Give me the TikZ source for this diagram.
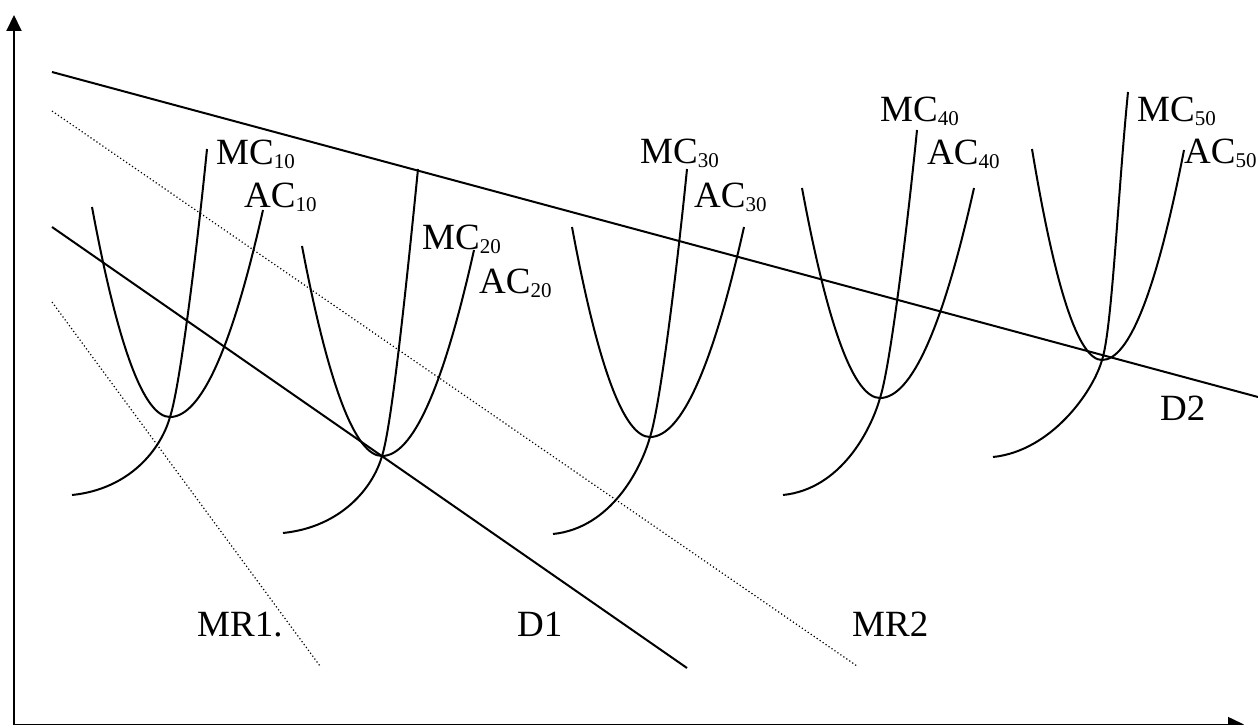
\documentclass[tikz,border=0pt]{standalone}
\usepackage{fontspec}
\setmainfont{Liberation Serif}
\usetikzlibrary{arrows.meta,calc}
\newcommand\labsub[2]{#1\raisebox{-4.5pt}{\fontsize{21}{21}\selectfont #2}}
\begin{document}
\begin{tikzpicture}[x=1pt,y=-1pt,
  curve/.style={line width=2pt},
  dline/.style={line width=1.2pt,dash pattern=on 1.2pt off 2.4pt},
  lab/.style={anchor=base west,inner sep=0pt,font=\fontsize{37}{40}\selectfont},
  axis/.style={line width=2pt}]
\useasboundingbox (0,0) rectangle (1258,725);
% axes
\coordinate (O) at (14,724.5);
\coordinate (Ytop) at (14,15);
\coordinate (Xend) at (1244,724.5);
\draw[axis,-{Triangle[length=16pt,width=15pt]}] (O) -- (Ytop);
\draw[line width=1.5pt,-{Triangle[length=16pt,width=15pt]}] (O) -- (Xend);
% demand and MR lines
\coordinate (D2a) at (52,72);   \coordinate (D2b) at (1258,397);
\coordinate (MR2a) at (52,111); \coordinate (MR2b) at (857,666);
\coordinate (D1a) at (52,227);  \coordinate (D1b) at (687,668);
\coordinate (MR1a) at (52,302); \coordinate (MR1b) at (320,666);
\draw[curve] (D2a) -- (D2b);
\draw[curve] (D1a) -- (D1b);
\draw[dline] (MR2a) -- (MR2b);
\draw[dline] (MR1a) -- (MR1b);
% cost curves
\foreach \n/\vx/\vy/\lx/\ly/\rx/\ry/\bx/\by/\tx/\ty in {
  1/170/417/92/207/263/210/72/495/207/149,
  2/382/456/302/246/474/250/283/533/418/169,
  3/650/437/572/227/744/227/553/534/687/169,
  4/880/398/802/188/974/188/783/495/917/130,
  5/1102/360/1032/149/1184/150/993/457/1128/92}{
  \coordinate (V\n) at (\vx,\vy);
  \coordinate (L\n) at (\lx,\ly);
  \coordinate (R\n) at (\rx,\ry);
  \coordinate (B\n) at (\bx,\by);
  \coordinate (T\n) at (\tx,\ty);
  % parabolic AC (quadratic Bezier written as cubic)
  \draw[curve] (L\n) .. controls ({\lx+(\vx-\lx)/3},{\ly+2*(\vy-\ly)/3}) and ({\vx-(\vx-\lx)/3},\vy) .. (V\n)
                     .. controls ({\vx+(\rx-\vx)/3},\vy) and ({\rx-(\rx-\vx)/3},{\ry+2*(\vy-\ry)/3}) .. (R\n);
  % MC
  \draw[curve] (B\n) .. controls ($(B\n)+(58,-6)$) and ($(V\n)+(-9,32)$) .. (V\n)
                     .. controls ($(V\n)+(10,-30)$) and ($(T\n)+(-10,100)$) .. (T\n);
}
% labels
\node[lab] (mc10) at (216,164) {\labsub{MC}{10}};
\node[lab] (ac10) at (244,207) {\labsub{AC}{10}};
\node[lab] (mc20) at (422,249) {\labsub{MC}{20}};
\node[lab] (ac20) at (479,293) {\labsub{AC}{20}};
\node[lab] (mc30) at (640,163) {\labsub{MC}{30}};
\node[lab] (ac30) at (694,207) {\labsub{AC}{30}};
\node[lab] (mc40) at (880,121) {\labsub{MC}{40}};
\node[lab] (ac40) at (927,164) {\labsub{AC}{40}};
\node[lab] (mc50) at (1137,121) {\labsub{MC}{50}};
\node[lab] (ac50) at (1184,163) {\labsub{AC}{50}};
\node[lab] (d2) at (1160,420) {D2};
\node[lab] (mr1) at (197,636) {MR1.};
\node[lab] (d1) at (517,636) {D1};
\node[lab] (mr2) at (852,636) {MR2};
\end{tikzpicture}
\end{document}
